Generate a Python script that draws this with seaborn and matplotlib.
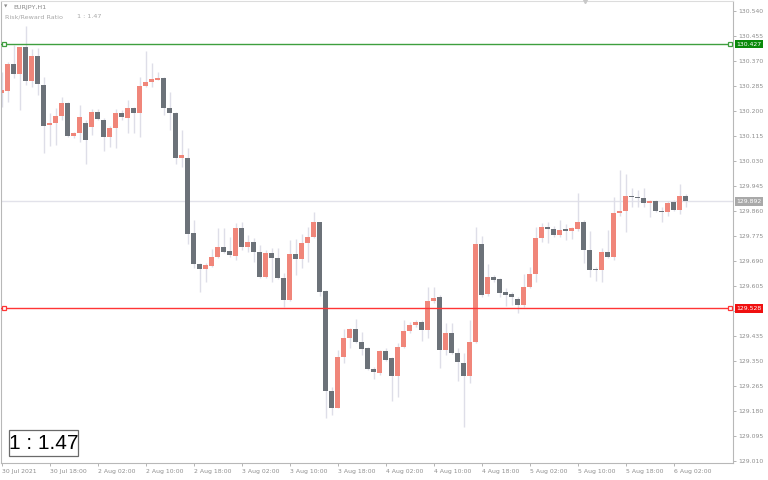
import numpy as np
import pandas as pd
import matplotlib
matplotlib.use("Agg")
import matplotlib.pyplot as plt
from matplotlib.patches import Rectangle
import seaborn as sns

# EURJPY hourly candles, 30 Jul 2021 10:00 to 6 Aug 2021 04:00
opens = [130.260, 130.269, 130.360, 130.326, 130.416, 130.303, 130.388, 130.288, 130.152, 130.158,
         130.181, 130.226, 130.115, 130.124, 130.158, 130.146, 130.198, 130.169, 130.112, 130.143,
         130.192, 130.175, 130.209, 130.194, 130.286, 130.300, 130.306, 130.311, 130.209, 130.192,
         130.041, 130.039, 129.784, 129.678, 129.662, 129.672, 129.702, 129.738, 129.723, 129.706,
         129.803, 129.738, 129.755, 129.721, 129.634, 129.715, 129.701, 129.633, 129.557, 129.712,
         129.695, 129.750, 129.770, 129.822, 129.587, 129.247, 129.190, 129.364, 129.426, 129.458,
         129.415, 129.392, 129.321, 129.309, 129.384, 129.358, 129.298, 129.398, 129.451, 129.472,
         129.483, 129.455, 129.553, 129.566, 129.387, 129.446, 129.375, 129.343, 129.299, 129.415,
         129.748, 129.576, 129.636, 129.627, 129.585, 129.576, 129.559, 129.540, 129.602, 129.644,
         129.769, 129.804, 129.798, 129.778, 129.797, 129.793, 129.797, 129.821, 129.727, 129.662,
         129.657, 129.721, 129.702, 129.854, 129.861, 129.912, 129.908, 129.905, 129.888, 129.894,
         129.861, 129.857, 129.891, 129.863, 129.912]
highs = [130.334, 130.368, 130.424, 130.418, 130.489, 130.410, 130.413, 130.314, 130.192, 130.209,
         130.246, 130.232, 130.129, 130.220, 130.169, 130.205, 130.205, 130.175, 130.149, 130.205,
         130.203, 130.237, 130.212, 130.314, 130.405, 130.362, 130.334, 130.317, 130.266, 130.198,
         130.135, 130.073, 129.829, 129.684, 129.681, 129.730, 129.801, 129.801, 129.772, 129.818,
         129.823, 129.778, 129.767, 129.744, 129.727, 129.733, 129.733, 129.647, 129.761, 129.763,
         129.781, 129.804, 129.857, 129.823, 129.591, 129.262, 129.387, 129.457, 129.460, 129.491,
         129.449, 129.398, 129.330, 129.387, 129.392, 129.364, 129.409, 129.489, 129.483, 129.489,
         129.489, 129.602, 129.602, 129.574, 129.480, 129.477, 129.392, 129.375, 129.489, 129.806,
         129.776, 129.678, 129.642, 129.630, 129.596, 129.585, 129.568, 129.645, 129.670, 129.806,
         129.820, 129.821, 129.809, 129.829, 129.815, 129.806, 129.920, 129.829, 129.793, 129.670,
         129.733, 129.795, 129.908, 129.999, 129.985, 129.937, 129.931, 129.937, 129.897, 129.897,
         129.874, 129.895, 129.897, 129.951, 129.917]
lows = [130.212, 130.232, 130.311, 130.203, 130.288, 130.283, 130.254, 130.058, 130.081, 130.084,
        130.169, 130.112, 130.107, 130.095, 130.019, 130.118, 130.169, 130.065, 130.076, 130.075,
        130.169, 130.124, 130.124, 130.112, 130.283, 130.283, 130.305, 130.186, 130.135, 130.018,
        130.010, 129.747, 129.664, 129.585, 129.617, 129.670, 129.698, 129.715, 129.704, 129.693,
        129.727, 129.721, 129.687, 129.630, 129.630, 129.619, 129.627, 129.532, 129.554, 129.642,
        129.664, 129.687, 129.767, 129.570, 129.154, 129.165, 129.188, 129.341, 129.394, 129.411,
        129.370, 129.319, 129.287, 129.302, 129.350, 129.214, 129.228, 129.392, 129.443, 129.466,
        129.418, 129.426, 129.548, 129.324, 129.370, 129.372, 129.282, 129.126, 129.275, 129.411,
        129.568, 129.570, 129.619, 129.568, 129.536, 129.540, 129.514, 129.534, 129.596, 129.619,
        129.755, 129.752, 129.772, 129.772, 129.761, 129.763, 129.793, 129.681, 129.636, 129.622,
        129.617, 129.698, 129.693, 129.843, 129.787, 129.874, 129.872, 129.874, 129.838, 129.857,
        129.821, 129.843, 129.861, 129.848, 129.872]
closes = [130.271, 130.360, 130.326, 130.416, 130.303, 130.388, 130.292, 130.150, 130.160, 130.181,
          130.228, 130.115, 130.124, 130.178, 130.101, 130.198, 130.171, 130.112, 130.143, 130.194,
          130.178, 130.209, 130.194, 130.286, 130.300, 130.308, 130.312, 130.209, 130.192, 130.041,
          130.049, 129.780, 129.678, 129.662, 129.676, 129.702, 129.738, 129.721, 129.709, 129.801,
          129.738, 129.755, 129.721, 129.634, 129.718, 129.698, 129.630, 129.557, 129.712, 129.695,
          129.750, 129.770, 129.822, 129.585, 129.247, 129.190, 129.364, 129.426, 129.458, 129.415,
          129.390, 129.322, 129.313, 129.384, 129.353, 129.298, 129.398, 129.451, 129.472, 129.483,
          129.455, 129.553, 129.565, 129.387, 129.446, 129.375, 129.345, 129.299, 129.415, 129.746,
          129.574, 129.636, 129.625, 129.582, 129.574, 129.566, 129.540, 129.602, 129.644, 129.769,
          129.804, 129.798, 129.778, 129.795, 129.793, 129.801, 129.821, 129.727, 129.659, 129.657,
          129.721, 129.702, 129.854, 129.861, 129.912, 129.908, 129.905, 129.888, 129.894, 129.860,
          129.857, 129.888, 129.863, 129.912, 129.892]

time_labels = ["30 Jul 2021", "30 Jul 18:00", "2 Aug 02:00", "2 Aug 10:00", "2 Aug 18:00",
               "3 Aug 02:00", "3 Aug 10:00", "3 Aug 18:00", "4 Aug 02:00", "4 Aug 10:00",
               "4 Aug 18:00", "5 Aug 02:00", "5 Aug 10:00", "5 Aug 18:00", "6 Aug 02:00"]
price_ticks = [130.540, 130.455, 130.370, 130.285, 130.200, 130.115, 130.030, 129.945, 129.860,
               129.775, 129.690, 129.605, 129.520, 129.435, 129.350, 129.265, 129.180, 129.095,
               129.010]

take_profit = 130.427
stop_loss = 129.528
last_price = 129.892
symbol = "EURJPY,H1"
ratio_name = "Risk/Reward Ratio"
ratio_text = "1 : 1.47"

BULL = "#f0867a"
BEAR = "#6c7279"
WICK = "#dedee8"
GREEN_LINE = "#3f9f3f"
GREEN_BOX = "#0b8a0b"
RED = "#ff3535"
GREY_LINE = "#e2e2ea"
GREY_BOX = "#a9a9a9"
TEXT_GREY = "#8e8e8e"

sns.set_theme(style="white")
plt.rcParams["font.family"] = ["DejaVu Sans"]

W, H = 768, 480
fig = plt.figure(figsize=(W / 100, H / 100), dpi=100)
fig.patch.set_facecolor("white")
ax = fig.add_axes([1 / W, 17 / H, 732 / W, 462 / H])
ax.set_facecolor("white")

df = pd.DataFrame({"open": opens, "high": highs, "low": lows, "close": closes})
df["bar"] = np.arange(len(df))
df["rising"] = df["close"] >= df["open"]
df["base"] = df[["open", "close"]].min(axis=1)
df["size"] = (df["close"] - df["open"]).abs()

# wicks behind, bodies on top
ax.vlines(df["bar"], df["low"], df["high"], color=WICK, lw=1.0, zorder=1)
ax.bar(df["bar"], df["size"], bottom=df["base"], width=0.8,
       color=np.where(df["rising"], BULL, BEAR), linewidth=0, zorder=2)

# last price, take profit and stop loss levels
ax.axhline(last_price, color=GREY_LINE, lw=1.0, zorder=0.5)
yt = ax.get_yaxis_transform()
for level, col in [(take_profit, GREEN_LINE), (stop_loss, RED)]:
    ax.axhline(level, color=col, lw=1.0, zorder=3)
    ax.plot([0.004, 0.9955], [level, level], transform=yt, ls="none", marker="s",
            ms=3.2, mfc="white", mec=col, mew=0.9, clip_on=False, zorder=4)

for level, box in [(take_profit, GREEN_BOX), (stop_loss, "#f01010"), (last_price, GREY_BOX)]:
    ax.text(1.0045, level, f"{level:.3f}", transform=yt, ha="left", va="center",
            fontsize=4.4, color="white", zorder=10, clip_on=False,
            bbox=dict(boxstyle="square,pad=0.28", fc=box, ec="none"))

ax.set_xlim(-0.12, 121.88)
ax.set_ylim(129.002, 130.574)

ax.set_xticks(np.arange(0, 8 * len(time_labels), 8))
ax.set_xticklabels(time_labels)
for lbl in ax.get_xticklabels():
    lbl.set_horizontalalignment("left")
ax.set_yticks(price_ticks)
# the stop-loss tag sits over the 129.520 grid value, so that label stays blank
ax.set_yticklabels(["" if abs(p - stop_loss) < 0.02 else f"{p:.3f}" for p in price_ticks])
ax.yaxis.tick_right()
ax.tick_params(axis="both", length=2.4, width=0.6, color="#a8a8a8",
               labelsize=4.4, labelcolor=TEXT_GREY, bottom=True, right=True, left=False)
ax.tick_params(axis="x", pad=2.2)
ax.tick_params(axis="y", pad=1.6)

for side, sp in ax.spines.items():
    sp.set_visible(True)
    sp.set_color("#b8b8b8")
    sp.set_linewidth(0.8)
ax.spines["top"].set_color("#dcdcdc")

# chart shift marker
ax.plot([0.798], [1.0], transform=ax.transAxes, marker="v", ms=3, color="#c8c8c8",
        ls="none", clip_on=False, zorder=5)

# header texts
fig.text(4 / W, 1 - 7 / H, "\u25bc", fontsize=3.2, color="#8a8a8a", va="center", ha="left")
fig.text(13 / W, 1 - 7 / H, symbol, fontsize=4.6, color="#8a8a8a", va="center", ha="left")
fig.text(5 / W, 1 - 17 / H, ratio_name, fontsize=4.6, color="#a8a8a8", va="center", ha="left")
fig.text(77 / W, 1 - 17 / H, ratio_text, fontsize=4.6, color="#a8a8a8", va="center", ha="left")

# ratio panel in the lower left corner
fig.add_artist(Rectangle((9 / W, (H - 456) / H), 69 / W, 26 / H, transform=fig.transFigure,
                         fill=True, fc="white", ec="#6a6a6a", lw=0.9, zorder=6))
fig.text(43.5 / W, 1 - 443.5 / H, ratio_text, fontsize=15, family=["Liberation Sans"],
         color="black", ha="center", va="center", zorder=7)

fig.savefig("out.png", dpi=100, facecolor="white")
